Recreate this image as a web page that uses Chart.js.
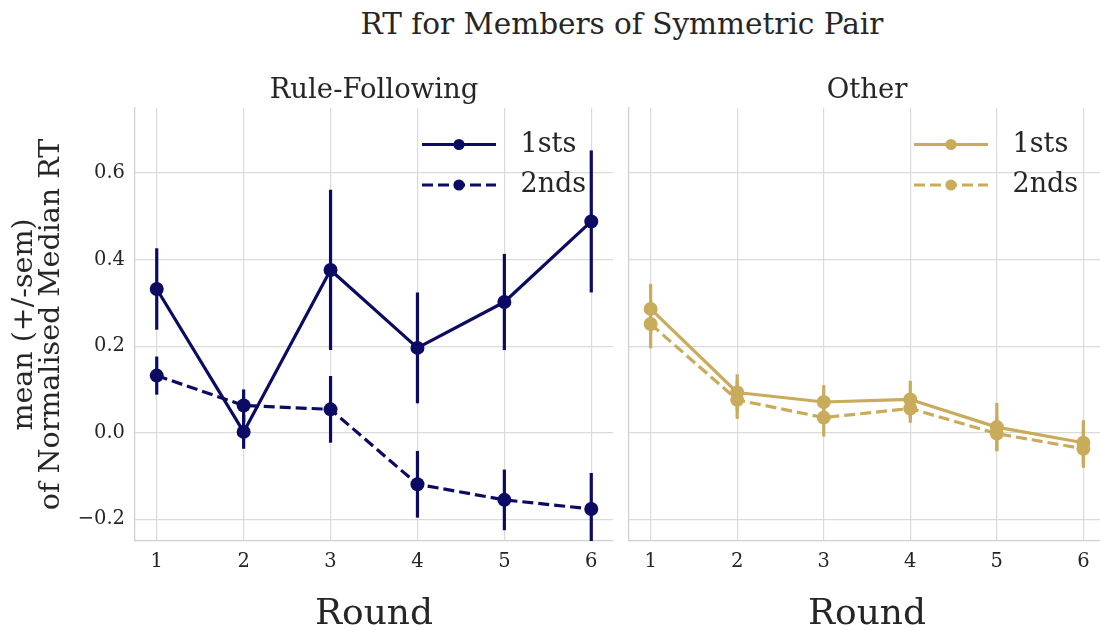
<!DOCTYPE html>
<html>
<head>
<meta charset="utf-8">
<script src="https://cdn.jsdelivr.net/npm/chart.js@4.4.1/dist/chart.umd.min.js"></script>
<style>
  html, body { margin: 0; padding: 0; background: #ffffff; overflow: hidden; }
  #fig { position: relative; width: 1100px; height: 630px; overflow: hidden; background: #ffffff; }
  #suptitle {
    position: absolute; left: 134px; width: 976px; top: 10px;
    text-align: center; white-space: nowrap;
    font-family: 'DejaVu Serif', serif; font-size: 29.5px; line-height: 29.5px; color: #262626;
  }
  canvas { position: absolute; top: 0; }
  #panelRule { left: 0; width: 620px; height: 630px; }
  #panelOther { left: 620px; width: 492px; height: 630px; }
</style>
</head>
<body>
<div id="fig">
  <div id="suptitle">RT for Members of Symmetric Pair</div>
  <canvas id="panelRule" width="620" height="630"></canvas>
  <canvas id="panelOther" width="492" height="630"></canvas>
</div>
<script>
// Rounds on the x axis and the y tick values shared by both panels
const rounds = [1, 2, 3, 4, 5, 6];
const yTickValues = [-0.2, 0, 0.2, 0.4, 0.6];
const seriesNames = ['1sts', '2nds'];
const panelTitles = ['Rule-Following', 'Other'];

// Rule-Following: mean normalised median RT and its sem per round
const ruleFirstMean  = [0.332, 0.002, 0.376, 0.196, 0.302, 0.488];
const ruleFirstSem   = [0.094, 0.039, 0.185, 0.128, 0.111, 0.164];
const ruleSecondMean = [0.132, 0.063, 0.054, -0.119, -0.155, -0.176];
const ruleSecondSem  = [0.044, 0.037, 0.077, 0.077, 0.070, 0.083];

// Other: mean normalised median RT and its sem per round
const otherFirstMean  = [0.286, 0.093, 0.071, 0.077, 0.013, -0.023];
const otherFirstSem   = [0.058, 0.042, 0.039, 0.043, 0.056, 0.052];
const otherSecondMean = [0.251, 0.076, 0.035, 0.056, -0.002, -0.037];
const otherSecondSem  = [0.056, 0.044, 0.044, 0.033, 0.038, 0.044];

const NAVY = '#0b0b63';
const GOLD = '#c9ab5c';
const INK = '#262626';
const GRID = '#dadada';
const SPINE = '#d0d0d0';
const SERIF = "'DejaVu Serif', serif";
const LINE_W = 3.2;

function toPoints(means) {
  return rounds.map((r, i) => ({ x: r, y: means[i] }));
}

function series(name, means, sems, color, dashed) {
  return {
    label: name,
    data: toPoints(means),
    sem: sems,
    borderColor: color,
    backgroundColor: color,
    borderWidth: LINE_W,
    borderDash: dashed ? [11, 5] : [],
    borderCapStyle: 'butt',
    borderJoinStyle: 'round',
    pointRadius: 7,
    pointBackgroundColor: color,
    pointBorderWidth: 0,
    tension: 0,
    order: dashed ? 0 : 1
  };
}

// vertical +/- sem bars behind the markers
const semBars = {
  id: 'semBars',
  beforeDatasetsDraw(chart) {
    const { ctx, chartArea, scales: { x, y } } = chart;
    ctx.save();
    ctx.beginPath();
    ctx.rect(chartArea.left, chartArea.top, chartArea.right - chartArea.left, chartArea.bottom - chartArea.top);
    ctx.clip();
    chart.data.datasets.forEach(ds => {
      ctx.strokeStyle = ds.borderColor;
      ctx.lineWidth = LINE_W;
      ctx.lineCap = 'butt';
      ds.data.forEach((p, i) => {
        const px = x.getPixelForValue(p.x);
        ctx.beginPath();
        ctx.moveTo(px, y.getPixelForValue(p.y - ds.sem[i]));
        ctx.lineTo(px, y.getPixelForValue(p.y + ds.sem[i]));
        ctx.stroke();
      });
    });
    ctx.restore();
  }
};

// legend in the upper right corner: line sample with marker, then the label
const pairLegend = {
  id: 'pairLegend',
  afterDatasetsDraw(chart) {
    const { ctx, chartArea } = chart;
    const rowOffsets = [36.5, 77];
    ctx.save();
    chart.data.datasets.forEach((ds, i) => {
      const cy = chartArea.top + rowOffsets[i];
      const x0 = chartArea.right - 191;
      const x1 = chartArea.right - 117;
      ctx.strokeStyle = ds.borderColor;
      ctx.lineWidth = LINE_W;
      ctx.lineCap = 'butt';
      ctx.setLineDash(ds.borderDash || []);
      ctx.beginPath();
      ctx.moveTo(x0, cy);
      ctx.lineTo(x1, cy);
      ctx.stroke();
      ctx.setLineDash([]);
      ctx.fillStyle = ds.borderColor;
      ctx.beginPath();
      ctx.arc((x0 + x1) / 2, cy, 5.6, 0, Math.PI * 2);
      ctx.fill();
      ctx.fillStyle = INK;
      ctx.font = '27px ' + SERIF;
      ctx.textAlign = 'left';
      ctx.textBaseline = 'middle';
      ctx.fillText(ds.label, chartArea.right - 92.5, cy);
    });
    ctx.restore();
  }
};

function fmtY(v) {
  return v.toFixed(1).replace('-', '\u2212');
}

function makePanel(canvasId, title, datasets, withYLabels, yWidth, rightPad) {
  return new Chart(document.getElementById(canvasId), {
    type: 'line',
    data: { datasets },
    options: {
      responsive: false,
      animation: false,
      events: [],
      layout: { padding: { left: 0, right: rightPad, top: 0, bottom: 0 } },
      plugins: {
        legend: { display: false },
        tooltip: { enabled: false },
        title: {
          display: true,
          text: title,
          fullSize: false,
          color: INK,
          font: { family: SERIF, size: 27.5, weight: 'normal', lineHeight: 1.2 },
          padding: { top: 74.5, bottom: 0.5 }
        }
      },
      scales: {
        x: {
          type: 'linear',
          min: 0.75,
          max: 6.25,
          afterBuildTicks: s => { s.ticks = rounds.map(v => ({ value: v })); },
          afterFit: s => { s.height = 89; },
          grid: { color: GRID, lineWidth: 1.2, drawTicks: false },
          border: { display: true, color: SPINE, width: 1.25 },
          ticks: {
            color: INK,
            autoSkip: false,
            maxRotation: 0,
            padding: 8.8,
            font: { family: SERIF, size: 19.5 },
            callback: v => String(v)
          },
          title: {
            display: true,
            text: 'Round',
            color: INK,
            font: { family: SERIF, size: 36, lineHeight: 0.8 },
            padding: { top: 0, bottom: 1 }
          }
        },
        y: {
          type: 'linear',
          min: -0.25,
          max: 0.75,
          afterBuildTicks: s => { s.ticks = yTickValues.map(v => ({ value: v })); },
          afterFit: s => { s.width = yWidth; },
          grid: { color: GRID, lineWidth: 1.2, drawTicks: false },
          border: { display: true, color: SPINE, width: 1.25 },
          ticks: {
            display: withYLabels,
            color: INK,
            padding: 10,
            font: { family: SERIF, size: 19.5 },
            callback: v => fmtY(v)
          },
          title: {
            display: withYLabels,
            text: ['mean (+/-sem)', 'of Normalised Median RT'],
            color: INK,
            font: { family: SERIF, size: 28.5, lineHeight: 0.96 },
            padding: { top: 10.7, bottom: 0 }
          }
        }
      }
    },
    plugins: [semBars, pairLegend]
  });
}

makePanel('panelRule', panelTitles[0], [
  series(seriesNames[0], ruleFirstMean, ruleFirstSem, NAVY, false),
  series(seriesNames[1], ruleSecondMean, ruleSecondSem, NAVY, true)
], true, 135, 5.5);

makePanel('panelOther', panelTitles[1], [
  series(seriesNames[0], otherFirstMean, otherFirstSem, GOLD, false),
  series(seriesNames[1], otherSecondMean, otherSecondSem, GOLD, true)
], false, 9, 2);
</script>
</body>
</html>
